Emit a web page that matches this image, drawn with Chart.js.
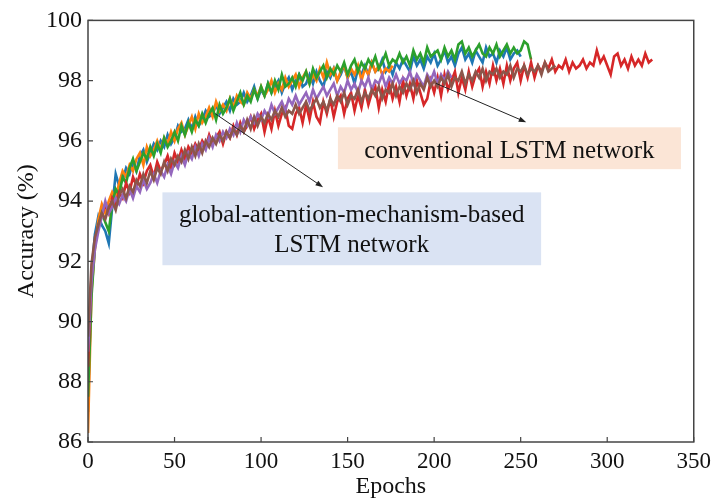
<!DOCTYPE html>
<html>
<head>
<meta charset="utf-8">
<script src="https://cdn.jsdelivr.net/npm/chart.js@4.4.1/dist/chart.umd.min.js"></script>
<style>
  html, body { margin: 0; padding: 0; background: #fff; }
  #wrap { width: 717px; height: 501px; }
</style>
</head>
<body>
<div id="wrap"><canvas id="acc" width="717" height="501"></canvas></div>
<script>
// one value every STEP epochs
const STEP = 2;

const blueAcc = [
  87.0, 91.6, 92.9, 93.5, 93.2, 93.0, 92.6, 93.8, 94.9, 94.5,
  94.7, 95.1, 94.9, 95.3, 95.0, 95.5, 95.7, 95.3, 95.6, 95.9,
  95.7, 96.0, 95.8, 96.2, 95.9, 96.1, 96.5, 96.3, 96.4, 96.7,
  96.4, 96.8, 96.5, 96.7, 97.0, 96.8, 96.9, 97.2, 96.9, 97.1,
  97.3, 97.0, 97.4, 97.2, 97.3, 97.6, 97.3, 97.5, 97.8, 97.4,
  97.7, 97.5, 97.9, 97.6, 97.8, 98.0, 97.6, 97.9, 98.1, 97.7,
  98.0, 98.2, 97.8, 97.9, 98.2, 97.9, 98.3, 98.0, 97.8, 98.3,
  98.1, 98.4, 98.0, 98.2, 98.5, 98.1, 98.3, 97.9, 98.4, 98.2,
  98.5, 98.2, 98.6, 98.3, 98.4, 98.7, 98.3, 98.5, 98.2, 98.6,
  98.4, 98.7, 98.5, 98.3, 98.8, 98.5, 98.7, 98.4, 98.8, 98.6,
  98.9, 98.5, 98.7, 99.0, 98.6, 98.8, 98.5, 98.9, 99.1, 98.7,
  98.9, 98.6, 99.0, 98.8, 98.6, 99.1, 98.8, 98.9, 98.6, 99.0,
  98.8, 99.1, 98.7, 98.9, 99.0, 98.8
];
const orangeAcc = [
  86.3, 91.0, 92.4, 93.4, 93.9, 93.6, 94.0, 94.3, 94.1, 94.6,
  95.0, 94.8, 95.2, 95.0, 95.4, 95.6, 95.2, 95.8, 95.5, 95.7,
  96.0, 95.7, 96.1, 95.9, 96.3, 96.0, 96.4, 96.6, 96.2, 96.5,
  96.8, 96.4, 96.9, 96.6, 96.8, 97.1, 96.8, 97.3, 97.0, 97.2,
  97.0, 97.4, 97.1, 97.5, 97.3, 97.2, 97.6, 97.4, 97.7, 97.5,
  97.8, 97.5, 97.7, 98.0, 97.6, 97.9, 97.7, 98.1, 97.8, 98.0,
  98.2, 97.8, 98.1, 98.3, 97.9, 98.2, 98.0, 98.4, 98.1, 98.6,
  98.2, 98.4, 98.0, 98.3, 98.5, 98.1, 98.4, 98.2, 98.5, 98.0,
  98.4, 98.2, 98.6, 98.3, 98.5, 98.2, 98.4, 98.3, 98.5
];
const greenAcc = [
  87.5, 90.8, 92.5, 93.2, 93.6, 93.3, 93.0, 93.9, 94.4, 94.2,
  94.8, 94.6, 95.1, 95.4, 95.0, 95.3, 95.6, 95.4, 95.8, 95.5,
  95.9, 95.6, 96.1, 95.8, 96.0, 96.3, 96.0, 96.5, 96.2, 96.6,
  96.3, 96.7, 96.5, 96.9, 96.6, 96.9, 97.1, 96.7, 97.2, 96.9,
  97.1, 97.4, 97.0, 97.3, 97.6, 97.2, 97.5, 97.3, 97.7, 97.4,
  97.8, 97.5, 97.9, 97.6, 98.0, 97.7, 98.2, 97.8, 97.9, 98.1,
  97.8, 98.2, 98.0, 98.3, 97.9, 98.4, 98.1, 98.3, 98.5, 98.1,
  98.4, 98.2, 98.5, 98.3, 98.6, 98.2, 98.5, 98.7, 98.3, 98.6,
  98.4, 98.7, 98.5, 98.8, 98.4, 98.6, 98.9, 98.5, 98.7, 98.6,
  98.9, 98.6, 98.8, 98.5, 99.0, 98.7, 98.9, 98.6, 99.1, 98.8,
  98.9, 99.0, 98.7, 99.1, 98.8, 99.0, 98.7, 99.2, 99.3, 98.9,
  99.1, 98.8, 99.0, 99.2, 98.9, 98.8, 99.1, 98.9, 99.2, 98.8,
  99.0, 99.2, 98.9, 99.1, 98.9, 99.0, 99.3, 99.2, 98.7
];
const redAcc = [
  88.5, 91.5, 92.6, 93.2, 93.5, 93.9, 93.6, 94.1, 93.9, 94.3,
  94.1, 94.6, 94.3, 94.8, 94.5, 94.9, 94.6, 95.0, 95.2, 94.8,
  95.3, 95.0, 95.2, 95.5, 95.1, 95.6, 95.3, 95.7, 95.4, 95.8,
  95.6, 95.9, 95.7, 96.0, 95.8, 96.2, 95.9, 96.1, 96.3, 95.9,
  96.3, 96.1, 96.5, 96.2, 96.6, 96.3, 96.5, 96.8, 96.4, 96.7,
  96.9, 96.3, 96.8, 96.4, 97.0, 96.5, 96.9, 97.1, 96.5, 96.4,
  96.9, 97.1, 96.6, 97.2, 96.7, 97.3, 96.8, 96.6, 97.3, 96.9,
  97.4, 96.8, 97.3, 97.5, 96.9, 97.4, 97.6, 97.0, 97.5, 97.1,
  97.7, 97.2, 97.6, 97.8, 97.1, 97.7, 97.3, 97.9, 97.4, 97.8,
  97.3, 98.0, 97.5, 97.9, 97.4, 98.0, 97.6, 97.2, 97.4, 98.0,
  97.6, 98.1, 97.5, 98.2, 97.7, 98.0, 98.3, 97.6, 98.1, 97.7,
  98.3, 97.8, 98.2, 98.4, 97.8, 98.3, 97.9, 98.5, 98.0, 98.4,
  97.9, 98.5, 98.0, 98.4, 98.6, 98.0, 98.5, 98.1, 98.6, 98.1,
  98.5, 98.3, 98.6, 98.4, 98.7, 98.3, 98.5, 98.4, 98.7, 98.3,
  98.6, 98.4, 98.5, 98.7, 98.4, 98.6, 98.5, 99.0, 98.6, 98.8,
  98.5, 98.2, 98.8, 98.9, 98.5, 98.7, 98.4, 98.8, 98.5, 98.7,
  98.5, 98.9, 98.6, 98.7
];
const purpleAcc = [
  89.0, 91.3, 92.4, 93.0, 93.5, 94.0, 93.6, 93.8, 94.1, 93.9,
  94.2, 94.0, 94.4, 94.1, 94.5, 94.3, 94.7, 94.4, 94.6, 94.9,
  94.6, 95.0, 94.8, 95.2, 94.9, 95.3, 95.1, 95.5, 95.2, 95.6,
  95.4, 95.8, 95.5, 95.9, 95.7, 96.1, 95.8, 96.2, 96.0, 96.3,
  96.1, 96.4, 96.2, 96.6, 96.3, 96.7, 96.5, 96.8, 96.6, 96.9,
  96.7, 97.0, 96.8, 97.2, 96.9, 97.1, 97.3, 97.0, 97.4, 97.2,
  97.5, 97.2, 97.4, 97.6, 97.3, 97.7, 97.4, 97.6, 97.8, 97.5,
  97.7, 97.9, 97.5, 97.8, 97.6, 98.0, 97.7, 97.9, 97.6, 98.0,
  97.8, 98.1, 97.7, 98.0, 97.9, 98.2, 97.8, 98.1, 97.9, 98.2,
  97.9, 98.1, 98.0, 98.3, 97.9, 98.2, 98.0, 97.8, 98.2, 98.0,
  98.3, 97.9, 98.2, 98.0, 98.3, 98.1
];
const brownAcc = [
  89.5, 91.9, 92.8, 93.2, 93.6, 93.4, 93.8, 94.0, 93.7, 94.2,
  94.4, 94.1, 94.5, 94.3, 94.7, 94.5, 94.9, 94.6, 95.0, 94.7,
  95.1, 94.9, 95.3, 95.0, 95.4, 95.2, 95.5, 95.3, 95.7, 95.4,
  95.8, 95.5, 95.9, 95.6, 96.0, 95.8, 96.1, 95.9, 96.2, 96.0,
  96.3, 96.1, 96.4, 96.2, 96.5, 96.3, 96.7, 96.4, 96.8, 96.5,
  96.8, 96.6, 96.9, 96.7, 97.0, 96.8, 97.1, 96.8, 97.0, 96.9,
  97.2, 96.9, 97.1, 97.3, 97.0, 97.2, 97.4, 97.1, 97.3, 97.0,
  97.4, 97.2, 97.5, 97.3, 97.6, 97.2, 97.5, 97.4, 97.7, 97.3,
  97.6, 97.4, 97.7, 97.5, 97.8, 97.4, 97.7, 97.6, 97.9, 97.5,
  97.8, 97.6, 97.9, 97.7, 98.0, 97.6, 97.9, 97.7, 98.1, 97.8,
  98.0, 97.8, 98.1, 97.9, 98.2, 97.8, 98.1, 98.0, 98.3, 97.9,
  98.2, 98.0, 98.3, 98.1, 98.4, 98.0, 98.3, 98.2, 98.4, 98.1,
  98.3, 98.2, 98.5, 98.1, 98.4, 98.3, 98.5, 98.2, 98.4, 98.3,
  98.5, 98.2, 98.6, 98.3, 98.4, 98.5
];

const SERIF = "'Liberation Serif', 'Times New Roman', serif";
const INK = '#111';

const toPoints = (vals) => vals.map((v, i) => ({ x: i * STEP, y: v }));

// later series are painted over earlier ones
const line = (vals, color, layer) => ({
  data: toPoints(vals),
  borderColor: color,
  borderWidth: 2.6,
  pointRadius: 0,
  tension: 0,
  fill: false,
  order: 10 - layer,
});

// callout boxes and arrows, in epoch / accuracy units
const notes = [
  {
    box: [43, 261.8, 94.29, 91.87],
    fill: '#dae3f3',
    center: 152.4,
    lines: [['global-attention-mechanism-based', 93.30], ['LSTM network', 92.30]],
    arrow: [73.3, 96.91, 135.8, 94.46],
  },
  {
    box: [144.4, 342.6, 96.45, 95.06],
    fill: '#fbe5d6',
    center: 243.5,
    lines: [['conventional LSTM network', 95.42]],
    arrow: [201, 97.91, 253.2, 96.62],
  },
];

const drawArrow = (ctx, x1, y1, x2, y2) => {
  const a = Math.atan2(y2 - y1, x2 - x1);
  const head = 8;
  ctx.strokeStyle = '#222';
  ctx.fillStyle = '#222';
  ctx.lineWidth = 1;
  ctx.beginPath();
  ctx.moveTo(x1, y1);
  ctx.lineTo(x2 - head * 0.8 * Math.cos(a), y2 - head * 0.8 * Math.sin(a));
  ctx.stroke();
  ctx.beginPath();
  ctx.moveTo(x2, y2);
  ctx.lineTo(x2 - head * Math.cos(a - 0.35), y2 - head * Math.sin(a - 0.35));
  ctx.lineTo(x2 - head * Math.cos(a + 0.35), y2 - head * Math.sin(a + 0.35));
  ctx.closePath();
  ctx.fill();
};

const calloutPlugin = {
  id: 'callouts',
  beforeDatasetsDraw(chart) {
    const { ctx, scales: { x, y } } = chart;
    ctx.save();
    notes.forEach((n) => {
      const [x0, x1, y0, y1] = n.box;
      const l = x.getPixelForValue(x0), r = x.getPixelForValue(x1);
      const t = y.getPixelForValue(y0), b = y.getPixelForValue(y1);
      ctx.fillStyle = n.fill;
      ctx.fillRect(l, t, r - l, b - t);
    });
    ctx.restore();
  },
  afterDatasetsDraw(chart) {
    const { ctx, chartArea: area, scales: { x, y } } = chart;
    ctx.save();
    notes.forEach((n) => {
      const [ax, ay, bx, by] = n.arrow;
      drawArrow(ctx, x.getPixelForValue(ax), y.getPixelForValue(ay),
        x.getPixelForValue(bx), y.getPixelForValue(by));
      ctx.fillStyle = INK;
      ctx.font = '25px ' + SERIF;
      ctx.textAlign = 'center';
      ctx.textBaseline = 'alphabetic';
      n.lines.forEach(([txt, base]) => {
        ctx.fillText(txt, x.getPixelForValue(n.center), y.getPixelForValue(base));
      });
    });

    // box frame and inward tick marks
    ctx.strokeStyle = '#444';
    ctx.lineWidth = 1.5;
    ctx.strokeRect(area.left, area.top, area.right - area.left, area.bottom - area.top);
    ctx.lineWidth = 1.2;
    ctx.beginPath();
    x.ticks.forEach((t) => {
      const px = x.getPixelForValue(t.value);
      ctx.moveTo(px, area.bottom);
      ctx.lineTo(px, area.bottom - 5);
    });
    y.ticks.forEach((t) => {
      const py = y.getPixelForValue(t.value);
      ctx.moveTo(area.left, py);
      ctx.lineTo(area.left + 5, py);
    });
    ctx.stroke();
    ctx.restore();
  },
};

new Chart(document.getElementById('acc'), {
  type: 'line',
  data: {
    datasets: [
      line(blueAcc, '#1f77b4', 0),
      line(orangeAcc, '#ff7f0e', 1),
      line(greenAcc, '#2ca02c', 2),
      line(redAcc, '#d62728', 3),
      line(purpleAcc, '#9467bd', 4),
      line(brownAcc, '#8c564b', 5),
    ],
  },
  options: {
    responsive: false,
    animation: false,
    devicePixelRatio: 1,
    layout: { padding: { top: 20, right: 18, left: 0, bottom: 0 } },
    plugins: { legend: { display: false }, tooltip: { enabled: false } },
    scales: {
      x: {
        type: 'linear',
        min: 0,
        max: 350,
        grid: { display: false, drawTicks: false },
        border: { display: false },
        ticks: { stepSize: 50, padding: 6, maxRotation: 0, color: INK, font: { family: SERIF, size: 23 } },
        title: { display: true, text: 'Epochs', color: INK, font: { family: SERIF, size: 24 }, padding: { top: 0, bottom: 0 } },
        afterFit: (s) => { s.height = 59; },
      },
      y: {
        min: 86,
        max: 100,
        grid: { display: false, drawTicks: false },
        border: { display: false },
        ticks: { stepSize: 2, padding: 6, color: INK, font: { family: SERIF, size: 24 } },
        title: { display: true, text: 'Accuracy (%)', color: INK, font: { family: SERIF, size: 24 }, padding: { top: 12, bottom: 0 } },
        afterFit: (s) => { s.width = 88; },
      },
    },
  },
  plugins: [calloutPlugin],
});
</script>
</body>
</html>
